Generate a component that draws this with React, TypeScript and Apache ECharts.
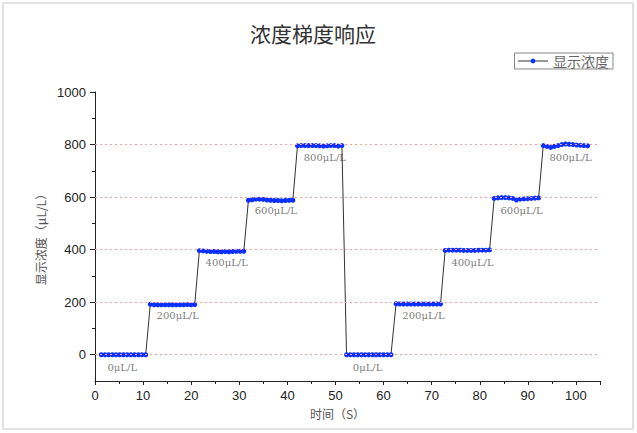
import React, { useEffect, useRef } from "react";
import * as echarts from "echarts";

const TITLE = "浓度梯度响应";
const SERIES_NAME = "显示浓度";
const X_NAME = "时间（S）";
const Y_NAME = "显示浓度（μL/L）";

const stepLevels = [0, 200, 400, 600, 800, 0, 200, 400, 600, 800];
const stepLabels = ["0μL/L", "200μL/L", "400μL/L", "600μL/L", "800μL/L", "0μL/L", "200μL/L", "400μL/L", "600μL/L", "800μL/L"];
const stepStartTimes = [1.3, 11.5, 21.7, 31.9, 42.1, 52.3, 62.6, 72.8, 83.0, 93.2];
const sampleInterval = 0.77;

const step1 = [0, 0, 0, 0, 0, 0, 0, 0, 0, 0, 0, 0, 0];
const step2 = [192, 190, 190, 190, 190, 190, 190, 190, 190, 190, 191, 190, 191];
const step3 = [396, 395, 394, 393, 393, 392, 392, 393, 392, 393, 394, 394, 394];
const step4 = [588, 590, 592, 592, 591, 589, 588, 587, 587, 586, 587, 588, 588];
const step5 = [795, 796, 796, 796, 796, 796, 795, 794, 795, 796, 796, 794, 796];
const step6 = [0, 0, 0, 0, 0, 0, 0, 0, 0, 0, 0, 0, 0];
const step7 = [194, 193, 193, 193, 193, 193, 193, 193, 193, 193, 193, 193, 193];
const step8 = [397, 398, 398, 398, 398, 397, 397, 397, 397, 398, 398, 398, 399];
const step9 = [595, 597, 598, 598, 597, 595, 589, 592, 593, 594, 595, 596, 597];
const step10 = [796, 793, 789, 793, 796, 800, 802, 801, 800, 798, 797, 796, 795];
const stepReadings = [step1, step2, step3, step4, step5, step6, step7, step8, step9, step10];

const xTickLabels = [0, 10, 20, 30, 40, 50, 60, 70, 80, 90, 100];
const yTickValues = [0, 200, 400, 600, 800, 1000];
const yMinorTickValues = [100, 300, 500, 700, 900];
const refLineValues = [0, 200, 400, 600, 800];

export default function App() {
  const ref = useRef<HTMLDivElement>(null);
  useEffect(() => {
    if (!ref.current) return;
    const chart = echarts.init(ref.current, null, { renderer: "svg" });
    const points: number[][] = [];
    stepReadings.forEach((vals, i) => {
      vals.forEach((v, j) => points.push([stepStartTimes[i] + j * sampleInterval, v]));
    });
    const labelPoints = stepLabels.map((t, i) => ({
      name: t,
      value: [stepStartTimes[i] + 1.3, stepLevels[i] - 50],
    }));
    const axisFont = { fontFamily: "Liberation Sans, Arial, sans-serif", fontSize: 13, color: "#222" };
    const option: any = {
      animation: false,
      backgroundColor: "#fff",
      graphic: [
        {
          type: "rect",
          silent: true,
          z: -10,
          shape: { x: 3, y: 3, width: 630, height: 426 },
          style: { fill: "none", stroke: "#e2e2e2", lineWidth: 2 },
        },
      ],
      title: {
        text: TITLE,
        left: 245,
        top: 17,
        textStyle: { fontFamily: "Noto Sans CJK SC", fontWeight: "normal", fontSize: 21, color: "#333" },
      },
      legend: {
        data: [SERIES_NAME],
        right: 24,
        top: 53,
        borderColor: "#888",
        borderWidth: 1,
        borderRadius: 0,
        padding: [1, 4, 1, 3],
        itemWidth: 30,
        itemHeight: 6,
        itemGap: 4,
        lineStyle: { color: "#333", width: 1 },
        itemStyle: { color: "#0a30ff" },
        textStyle: { fontFamily: "Noto Sans CJK SC", fontSize: 14, color: "#666" },
      },
      grid: { left: 95, right: 37, top: 92, bottom: 52 },
      xAxis: {
        type: "value",
        min: 0,
        max: 105,
        interval: 10,
        name: X_NAME,
        nameLocation: "middle",
        nameGap: 26,
        nameTextStyle: { fontFamily: "Noto Sans CJK SC", fontSize: 12, color: "#555", padding: [0, 20, 0, 0] },
        axisLine: { onZero: false, lineStyle: { color: "#222", width: 1 } },
        axisTick: { show: true, length: 4, lineStyle: { color: "#222" } },
        minorTick: { show: true, splitNumber: 2, length: 3, lineStyle: { color: "#222" } },
        axisLabel: {
          ...axisFont,
          margin: 8,
          formatter: (v: number) => (xTickLabels.indexOf(v) >= 0 ? String(v) : ""),
        },
        splitLine: { show: false },
      },
      yAxis: [
        {
          type: "value",
          min: -100,
          max: 1000,
          interval: 100,
          name: Y_NAME,
          nameLocation: "middle",
          nameGap: 46,
          nameTextStyle: { fontFamily: "Noto Sans CJK SC", fontSize: 12, color: "#555" },
          axisLine: { show: true, lineStyle: { color: "#222", width: 1 } },
          axisTick: { show: true, length: 5, customValues: yTickValues, lineStyle: { color: "#222" } },
          axisLabel: {
            ...axisFont,
            margin: 9,
            customValues: yTickValues,
            formatter: (v: number) => String(v),
          },
          splitLine: { show: false },
        },
        {
          type: "value",
          min: -100,
          max: 1000,
          interval: 100,
          position: "left",
          axisLine: { show: false },
          axisTick: { show: true, length: 3, customValues: yMinorTickValues, lineStyle: { color: "#222" } },
          axisLabel: { show: false },
          splitLine: { show: false },
        },
      ],
      series: [
        {
          type: "scatter",
          name: "labels",
          z: 1,
          symbolSize: 0,
          silent: true,
          data: labelPoints,
          label: {
            show: true,
            position: "right",
            distance: 0,
            formatter: (p: any) => p.name,
            fontFamily: "DejaVu Serif",
            fontSize: 10,
            color: "#555",
          },
          markLine: {
            silent: true,
            symbol: "none",
            label: { show: false },
            lineStyle: { type: [2, 3], color: "#f5a0a0", width: 1 },
            data: refLineValues.map((v) => ({ yAxis: v })),
          },
        },
        {
          type: "line",
          name: SERIES_NAME,
          z: 3,
          data: points,
          symbol: "circle",
          symbolSize: 5,
          showSymbol: true,
          itemStyle: { color: "#0a30ff" },
          lineStyle: { color: "#333", width: 1 },
        },
      ],
    };
    chart.setOption(option);
    return () => chart.dispose();
  }, []);
  return (
    <div
      ref={ref}
      style={{ position: "fixed", left: 0, top: 0, width: 637, height: 433 }}
    />
  );
}
